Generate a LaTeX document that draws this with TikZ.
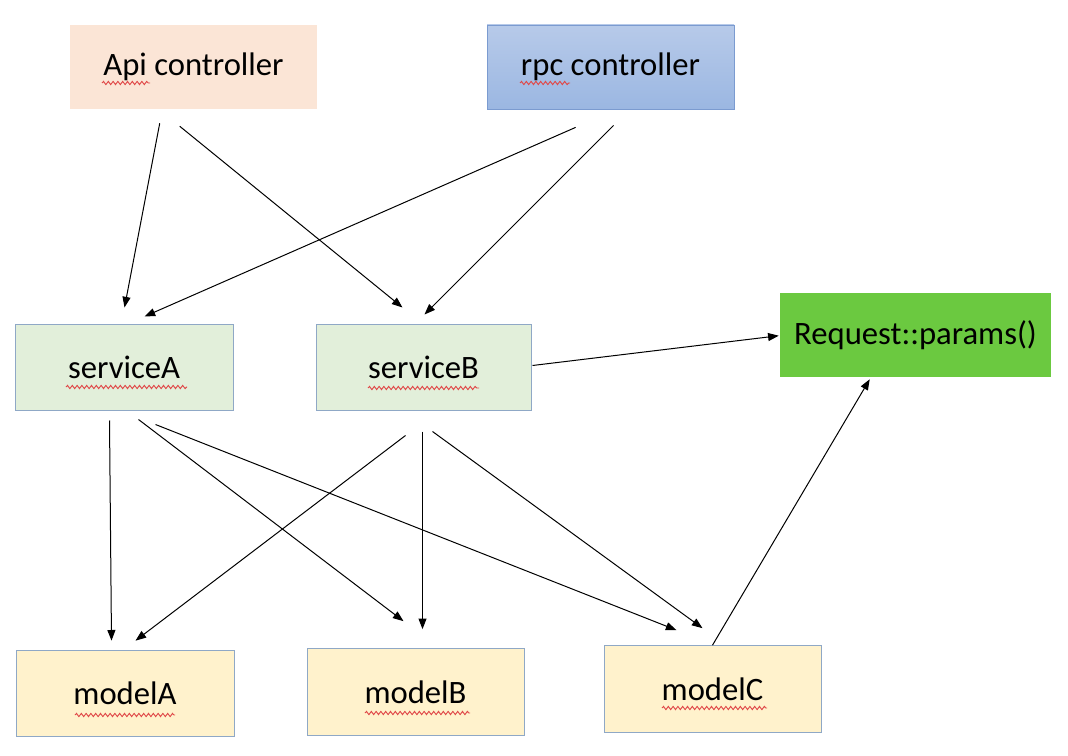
\documentclass[tikz,border=0pt]{standalone}
\usepackage{fontspec}
\setmainfont{Carlito}
\usetikzlibrary{arrows.meta,decorations.pathmorphing}
\definecolor{apifill}{HTML}{FBE5D6}
\definecolor{rpctop}{HTML}{B7CAE9}
\definecolor{rpcbot}{HTML}{9BB7E2}
\definecolor{rpcline}{HTML}{7B9BD0}
\definecolor{reqfill}{HTML}{6BC940}
\definecolor{svcfill}{HTML}{E2EFDA}
\definecolor{modfill}{HTML}{FFF2CC}
\definecolor{boxline}{HTML}{8FA8C6}
\definecolor{squig}{HTML}{E04848}
\tikzset{
  box/.style={rectangle, inner sep=0pt, font=\fontsize{24.5}{29}\selectfont, text=black},
  apibox/.style={box, fill=apifill, minimum width=185.25pt, minimum height=63pt},
  rpcbox/.style={box, top color=rpctop, bottom color=rpcbot, draw=rpcline, line width=0.6pt, minimum width=185.25pt, minimum height=63pt},
  reqbox/.style={box, fill=reqfill, minimum width=203.25pt, minimum height=63pt},
  svcbox/.style={box, fill=svcfill, draw=boxline, line width=0.75pt, minimum height=64.5pt},
  modbox/.style={box, fill=modfill, draw=boxline, line width=0.75pt, minimum height=65pt},
  arr/.style={draw=black, line width=0.75pt, -{Triangle[length=8pt,width=6pt]}},
  wavy/.style={draw=squig, line width=0.7pt, decorate, decoration={snake, segment length=3.6pt, amplitude=1.2pt}}
}
\begin{document}
\begin{tikzpicture}[x=0.75pt,y=-0.75pt]
\fill[white] (0,0) rectangle (1068,756);
\useasboundingbox (0,0) rectangle (1068,756);

\node[apibox] (api) at (193.5,67) {Api controller};
\node[rpcbox] (rpc) at (610.5,67) {rpc controller};
\node[reqbox] (req) at (915.5,335) {Request::params()};
\node[svcbox, minimum width=163.5pt] (sA) at (124,367) {serviceA};
\node[svcbox, minimum width=161.25pt] (sB) at (423.5,367) {serviceB};
\node[modbox, minimum width=163.5pt] (mA) at (125,693.5) {modelA};
\node[modbox, minimum width=162.75pt] (mB) at (415.5,692) {modelB};
\node[modbox, minimum width=162.75pt] (mC) at (712.5,689) {modelC};

% spell-check underlines
\draw[wavy] ([shift={(-91.5,16)}]api.center) -- ([shift={(-43.5,16)}]api.center);
\draw[wavy] ([shift={(-90.5,16)}]rpc.center) -- ([shift={(-40.5,16)}]rpc.center);
\draw[wavy] ([shift={(-58,20)}]sA.center) -- ([shift={(63,20)}]sA.center);
\draw[wavy] ([shift={(-55.5,21)}]sB.center) -- ([shift={(55.5,21)}]sB.center);
\draw[wavy] ([shift={(-50,21.5)}]mA.center) -- ([shift={(50,21.5)}]mA.center);
\draw[wavy] ([shift={(-50.5,21)}]mB.center) -- ([shift={(54.5,21)}]mB.center);
\draw[wavy] ([shift={(-50.5,19)}]mC.center) -- ([shift={(54.5,19)}]mC.center);

% connectors
\draw[arr] ([shift={(90,14)}]api.south west) -- ([shift={(110,-16)}]sA.north west);
\draw[arr] ([shift={(110,17)}]api.south west) -- ([shift={(87,-16)}]sB.north west);
\draw[arr] ([shift={(89,18)}]rpc.south west) -- ([shift={(130,-7)}]sA.north west);
\draw[arr] ([shift={(127,16)}]rpc.south west) -- ([shift={(109,-9)}]sB.north west);
\draw[arr] ([shift={(1,42)}]sB.north east) -- ([shift={(-1,43)}]req.north west);
\draw[arr] ([shift={(95,10)}]sA.south west) -- ([shift={(96,-9)}]mA.north west);
\draw[arr] ([shift={(124,9)}]sA.south west) -- ([shift={(97,-27)}]mB.north west);
\draw[arr] ([shift={(141,14)}]sA.south west) -- ([shift={(73,-15)}]mC.north west);
\draw[arr] ([shift={(90,25)}]sB.south west) -- ([shift={(120,-9)}]mA.north west);
\draw[arr] ([shift={(107,21)}]sB.south west) -- ([shift={(116,-19)}]mB.north west);
\draw[arr] ([shift={(117,21)}]sB.south west) -- ([shift={(99,-17)}]mC.north west);
\draw[arr] ([shift={(109,0)}]mC.north west) -- ([shift={(90,2)}]req.south west);
\end{tikzpicture}
\end{document}
